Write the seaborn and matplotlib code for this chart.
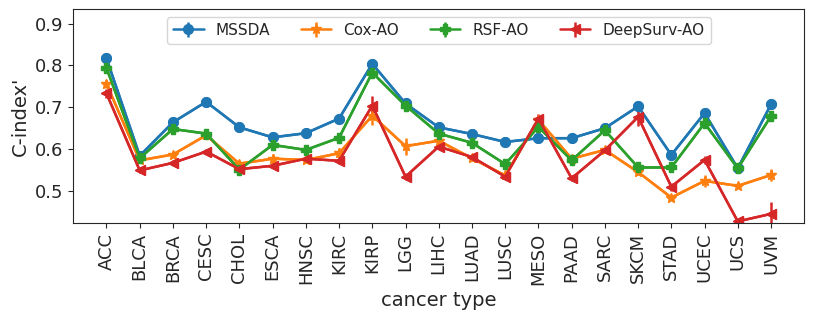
import numpy as np
import pandas as pd
import matplotlib
matplotlib.use("Agg")
import matplotlib.pyplot as plt
import seaborn as sns

cancers = ['ACC', 'BLCA', 'BRCA', 'CESC', 'CHOL', 'ESCA', 'HNSC', 'KIRC', 'KIRP', 'LGG', 'LIHC',
           'LUAD', 'LUSC', 'MESO', 'PAAD', 'SARC', 'SKCM', 'STAD', 'UCEC', 'UCS', 'UVM']

mssda = [0.817, 0.584, 0.664, 0.713, 0.652, 0.628, 0.638, 0.673, 0.804, 0.709, 0.652,
         0.636, 0.617, 0.626, 0.626, 0.650, 0.702, 0.586, 0.686, 0.554, 0.707]
cox_ao = [0.756, 0.573, 0.587, 0.633, 0.565, 0.577, 0.574, 0.590, 0.680, 0.607, 0.620,
          0.578, 0.537, 0.670, 0.577, 0.598, 0.545, 0.484, 0.524, 0.512, 0.538]
rsf_ao = [0.794, 0.578, 0.648, 0.637, 0.551, 0.610, 0.598, 0.627, 0.783, 0.704, 0.637,
          0.615, 0.564, 0.653, 0.573, 0.645, 0.556, 0.556, 0.662, 0.554, 0.679]
deepsurv_ao = [0.733, 0.549, 0.567, 0.594, 0.552, 0.560, 0.577, 0.572, 0.704, 0.534, 0.606,
               0.581, 0.534, 0.673, 0.530, 0.597, 0.677, 0.510, 0.574, 0.427, 0.445]

mssda_err = [0.005, 0.004, 0.006, 0.005, 0.004, 0.004, 0.004, 0.005, 0.006, 0.005, 0.004,
             0.004, 0.004, 0.005, 0.004, 0.005, 0.013, 0.005, 0.008, 0.004, 0.010]
cox_err = [0.010, 0.005, 0.006, 0.006, 0.006, 0.012, 0.008, 0.012, 0.022, 0.020, 0.006,
           0.006, 0.006, 0.008, 0.006, 0.006, 0.008, 0.006, 0.014, 0.005, 0.014]
rsf_err = [0.006, 0.005, 0.006, 0.006, 0.010, 0.005, 0.005, 0.005, 0.008, 0.005, 0.005,
           0.005, 0.005, 0.006, 0.008, 0.005, 0.005, 0.005, 0.006, 0.005, 0.006]
ds_err = [0.010, 0.006, 0.006, 0.006, 0.008, 0.006, 0.006, 0.008, 0.024, 0.008, 0.006,
          0.006, 0.006, 0.010, 0.006, 0.006, 0.022, 0.010, 0.010, 0.006, 0.028]

methods = ['MSSDA', 'Cox-AO', 'RSF-AO', 'DeepSurv-AO']
values = [mssda, cox_ao, rsf_ao, deepsurv_ao]
errors = [mssda_err, cox_err, rsf_err, ds_err]
markers = ['o', '*', 'P', '<']

sns.set_style("ticks")
colors = sns.color_palette("tab10", 4)

fig, ax = plt.subplots(figsize=(8.14, 3.21), dpi=100)
fig.subplots_adjust(left=0.09, right=0.988, top=0.972, bottom=0.305)

x = np.arange(len(cancers))
handles = []
for name, vals, errs, mk, col in zip(methods, values, errors, markers, colors):
    df = pd.DataFrame({'x': x, 'y': vals})
    sns.lineplot(data=df, x='x', y='y', color=col, marker=mk, markersize=7,
                 markeredgecolor=col, linewidth=1.8, ax=ax, legend=False)
    h = ax.errorbar(x, vals, yerr=errs, fmt=mk, color=col, markersize=7,
                    elinewidth=1.8, linestyle='-', linewidth=1.8, label=name)
    handles.append(h)

ax.set_xticks(x)
ax.set_xticklabels(cancers, rotation=90, fontsize=13)
ax.tick_params(axis='y', labelsize=13)
ax.set_yticks([0.5, 0.6, 0.7, 0.8, 0.9])
ax.set_ylim(0.423, 0.935)
ax.set_xlim(-1, 21)
ax.set_xlabel('cancer type', fontsize=14)
ax.set_ylabel("C-index'", fontsize=14)
for s in ax.spines.values():
    s.set_visible(True)
ax.legend(handles=handles, labels=methods, loc='upper center', ncol=4, fontsize=11)

fig.savefig('out.png', dpi=100)
